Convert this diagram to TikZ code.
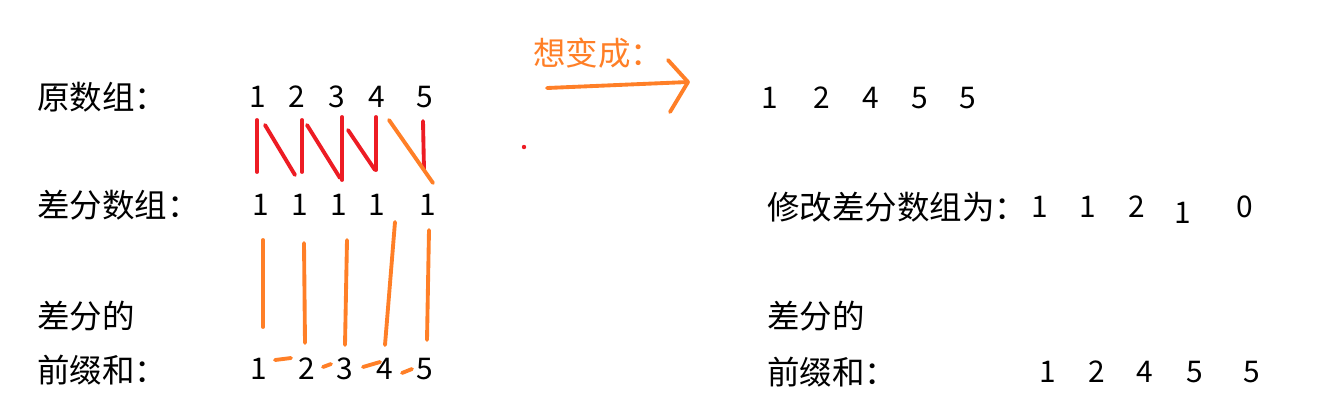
\documentclass[tikz,border=0pt]{standalone}
\usepackage{fontspec}
\setmainfont{Noto Sans CJK SC}
\usepackage{tikz}
\usetikzlibrary{positioning}
\definecolor{penred}{HTML}{ED1C24}
\definecolor{penorange}{HTML}{FF7F27}

\begin{document}
\begin{tikzpicture}[
    x=0.02cm, y=-0.02cm,
    rowlabel/.style={anchor=west, inner sep=0pt, font=\fontsize{18.5}{22}\selectfont},
    num/.style={inner sep=0pt, font=\fontsize{17}{20}\selectfont},
    redpen/.style={line width=2.2pt, color=penred, line cap=round},
    orangepen/.style={line width=2.2pt, color=penorange, line cap=round, line join=round},
]
\useasboundingbox (0,0) rectangle (1323,414);

% ─── Left: original array ───
\node[rowlabel] (orig) at (37,97) {原数组：};
\node[num] (a1) at (258,97) {1};
\node[num] (a2) at (297,97) {2};
\node[num] (a3) at (337,97) {3};
\node[num] (a4) at (377,97) {4};
\node[num] (a5) at (425,97) {5};

% ─── Left: difference array ───
\node[rowlabel] (diff) at (37,205) {差分数组：};
\node[num] (d1) at (261,205) {1};
\node[num] (d2) at (300,205) {1};
\node[num] (d3) at (339,205) {1};
\node[num] (d4) at (377,205) {1};
\node[num] (d5) at (428,205) {1};

% ─── Left: prefix sum ───
\node[rowlabel] (pre1) at (37,316) {差分的};
\node[rowlabel] (pre2) at (37,370) {前缀和：};
\node[num] (p1) at (259,369) {1};
\node[num] (p2) at (307,369) {2};
\node[num] (p3) at (345,369) {3};
\node[num] (p4) at (385,369) {4};
\node[num] (p5) at (425,369) {5};

% ─── Strokes: original -> difference ───
\draw[redpen] (257,120) -- (257,172);
\draw[redpen] (265,125) -- (295,175);
\draw[redpen] (302,120) -- (302,172);
\draw[redpen] (307,125) -- (340,178);
\draw[redpen] (342,117) -- (342,180);
\draw[redpen] (348,130) -- (375,170);
\draw[redpen] (376,117) -- (376,170);
\draw[redpen] (423,121) -- (424,170);
\draw[orangepen] (389,120) -- (433,183);

% ─── Strokes: difference -> prefix sum ───
\draw[orangepen] (263,240) -- (263,327);
\draw[orangepen] (304,243) -- (305,343);
\draw[orangepen] (347,240) -- (345,345);
\draw[orangepen] (395,222) -- (385,345);
\draw[orangepen] (429,230) -- (427,340);
\draw[orangepen] (275,360) -- (291,358);
\draw[orangepen] (323,367) -- (331,364);
\draw[orangepen] (363,367) -- (380,362);
\draw[orangepen] (402,373) -- (412,369);

% ─── Middle: arrow ───
\node[rowlabel, text=penorange] (want) at (533,53) {想变成：};
\draw[orangepen] (547,88) -- (688,82);
\draw[orangepen] (668,60) -- (688,82) -- (670,112);
\fill[penred] (524,147) circle (2.2);

% ─── Right: target array ───
\node[num] (b1) at (770,98) {1};
\node[num] (b2) at (822,98) {2};
\node[num] (b3) at (871,98) {4};
\node[num] (b4) at (920,98) {5};
\node[num] (b5) at (968,98) {5};

\node[rowlabel] (mod) at (767,207) {修改差分数组为：};
\node[num] (e1) at (1040,207) {1};
\node[num] (e2) at (1088,207) {1};
\node[num] (e3) at (1137,207) {2};
\node[num] (e4) at (1183,213) {1};
\node[num] (e5) at (1245,207) {0};

\node[rowlabel] (res1) at (767,316) {差分的};
\node[rowlabel] (res2) at (767,372) {前缀和：};
\node[num] (q1) at (1048,372) {1};
\node[num] (q2) at (1097,372) {2};
\node[num] (q3) at (1145,372) {4};
\node[num] (q4) at (1195,372) {5};
\node[num] (q5) at (1252,372) {5};

\end{tikzpicture}
\end{document}
